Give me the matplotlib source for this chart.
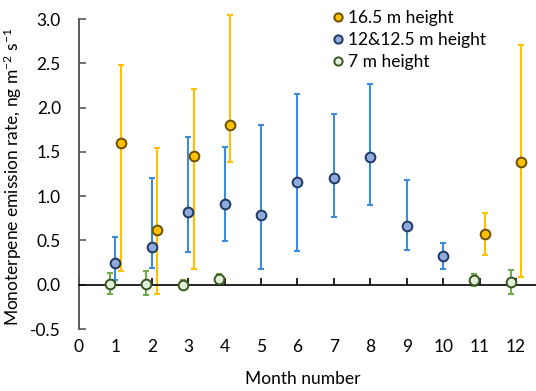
import matplotlib
matplotlib.use("Agg")
import matplotlib.pyplot as plt
import numpy as np

plt.rcParams['font.family'] = ['Lato', 'DejaVu Sans']
plt.rcParams['mathtext.fontset'] = 'custom'
plt.rcParams['mathtext.rm'] = 'Lato'
plt.rcParams['mathtext.it'] = 'Lato'
plt.rcParams['mathtext.bf'] = 'Lato'

# 16.5 m height
m_165 = [1, 2, 3, 4, 11, 12]
v_165 = [1.60, 0.62, 1.45, 1.80, 0.57, 1.38]
hi_165 = [2.48, 1.54, 2.21, 3.04, 0.81, 2.71]
lo_165 = [0.15, -0.10, 0.18, 1.38, 0.33, 0.09]

# 12&12.5 m height
m_12 = [1, 2, 3, 4, 5, 6, 7, 8, 9, 10]
v_12 = [0.25, 0.43, 0.82, 0.91, 0.79, 1.16, 1.21, 1.44, 0.66, 0.32]
hi_12 = [0.54, 1.20, 1.67, 1.56, 1.80, 2.15, 1.93, 2.27, 1.18, 0.47]
lo_12 = [0.05, 0.19, 0.37, 0.49, 0.18, 0.38, 0.77, 0.90, 0.39, 0.18]

# 7 m height
m_7 = [1, 2, 3, 4, 11, 12]
v_7 = [0.01, 0.01, 0.00, 0.06, 0.05, 0.03]
hi_7 = [0.13, 0.15, 0.05, 0.12, 0.12, 0.17]
lo_7 = [-0.10, -0.12, -0.03, 0.00, -0.02, -0.10]

xticks = list(range(0, 13))
yticks = [-0.5, 0.0, 0.5, 1.0, 1.5, 2.0, 2.5, 3.0]

fig = plt.figure(figsize=(5.36, 3.91), dpi=100)
ax = fig.add_axes([79/536, 1-329/391, 1-79/536, (329-19)/391])

def series(m, v, hi, lo, off, bar_c, face, edge, label):
    x = np.array(m) + off
    v = np.array(v)
    yerr = [v - np.array(lo), np.array(hi) - v]
    eb = ax.errorbar(x, v, yerr=yerr, fmt='none', ecolor=bar_c, elinewidth=1.5,
                     capsize=2.5, capthick=1.5, zorder=2)
    for art in eb.lines[1] + eb.lines[2]:
        art.set_clip_on(False)
    ax.plot(x, v, 'o', ms=7, mfc=face, mec=edge, mew=1.4, zorder=3, label=label,
            clip_on=False)

series(m_7, v_7, hi_7, lo_7, -0.15, '#70AD47', '#E2F0D9', '#385723', '7 m height')
series(m_12, v_12, hi_12, lo_12, 0.0, '#3D8CDA', '#8FAADC', '#1F3864', '12&12.5 m height')
series(m_165, v_165, hi_165, lo_165, 0.15, '#FFC000', '#FFC000', '#6B5000', '16.5 m height')

ax.set_xlim(0, 12.55)
ax.set_ylim(-0.5, 3.0)
ax.set_xticks(xticks)
ax.set_yticks(yticks)
ax.set_yticklabels(['-0.5', '0.0', '0.5', '1.0', '1.5', '2.0', '2.5', '3.0'])

ax.spines['top'].set_visible(False)
ax.spines['right'].set_visible(False)
ax.spines['bottom'].set_position(('data', 0))
ax.spines['bottom'].set_color('black')
ax.spines['bottom'].set_linewidth(1.2)
ax.spines['left'].set_color('#595959')
ax.spines['left'].set_linewidth(1.4)

ax.tick_params(axis='x', direction='in', length=5, width=1.2, color='black',
               pad=39, labelsize=12.5)
ax.tick_params(axis='y', direction='in', length=5, width=1.2, color='#595959',
               pad=13, labelsize=12.5)

ax.set_xlabel('Month number', fontsize=12.5)
ax.xaxis.set_label_coords(0.49, -0.135)
ax.set_ylabel('Monoterpene emission rate, ng m$^{-2}$ s$^{-1}$', fontsize=12.5)
ax.yaxis.set_label_coords(-0.12, 0.49)

handles, labels = ax.get_legend_handles_labels()
order = [2, 1, 0]
leg = ax.legend([handles[i] for i in order], [labels[i] for i in order],
                loc='upper left', bbox_to_anchor=(322/536, 1 - 3/391),
                bbox_transform=fig.transFigure, frameon=False, fontsize=12.5,
                handletextpad=0.1, handlelength=1.0, labelspacing=0.35,
                borderaxespad=0, markerscale=0.85)

fig.savefig('out.png', dpi=100)
